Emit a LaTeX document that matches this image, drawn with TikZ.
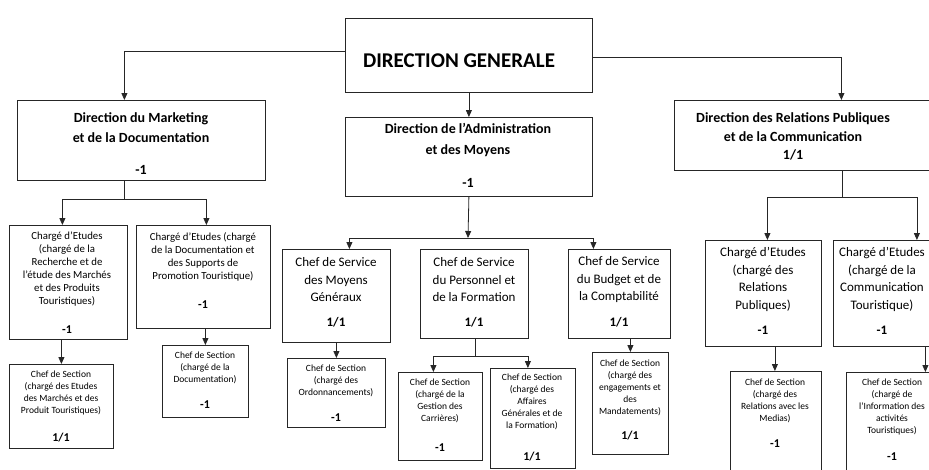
\documentclass[tikz,border=0pt]{standalone}
\usepackage{fontspec}
\setmainfont{Carlito}
\usetikzlibrary{arrows.meta,calc}
\newcommand\myfs[2]{\fontsize{#1}{#2}\selectfont}
\tikzset{
  box/.style={draw=black!85, line width=0.8pt, inner sep=0pt, anchor=north west},
  txt/.style={align=center, inner sep=0pt, text=black},
  con/.style={draw=black!85, line width=0.8pt},
  arr/.style={con, -{Triangle[length=7pt,width=6pt]}},
  big/.style={txt, font=\bfseries\myfs{14}{20}},
  mid/.style={txt, font=\myfs{13}{17.5}},
  midb/.style={txt, font=\bfseries\myfs{13}{17}},
  ce/.style={txt, font=\myfs{10.8}{13}},
  ceb/.style={txt, font=\bfseries\myfs{12}{14}},
  sm/.style={txt, font=\myfs{9.5}{12}},
  smb/.style={txt, font=\bfseries\myfs{12}{14}},
}
\begin{document}
\begin{tikzpicture}[x=1pt,y=-1pt]
\useasboundingbox (0,0) rectangle (929,469);
\clip (0,0) rectangle (929,469);
% ---------------- boxes ----------------
\node[box, minimum width=247pt, minimum height=74pt] (dg) at (345,18) {};
\node[box, minimum width=248pt, minimum height=80pt] (mkt) at (17,100) {};
\node[box, minimum width=247pt, minimum height=79pt] (adm) at (345,117) {};
\node[box, minimum width=266pt, minimum height=70pt] (rp) at (674,100) {};
\node[box, minimum width=118pt, minimum height=114pt] (ce1) at (9,225) {};
\node[box, minimum width=134pt, minimum height=103pt] (ce2) at (136,225) {};
\node[box, minimum width=104pt, minimum height=84pt] (cs1) at (9,364) {};
\node[box, minimum width=86pt, minimum height=72pt] (cs2) at (162,345) {};
\node[box, minimum width=108pt, minimum height=93pt] (smg) at (282,249) {};
\node[box, minimum width=108pt, minimum height=89pt] (spf) at (420,249) {};
\node[box, minimum width=102pt, minimum height=89pt] (sbc) at (568,249) {};
\node[box, minimum width=98pt, minimum height=69pt] (sord) at (287,358) {};
\node[box, minimum width=84pt, minimum height=88pt] (sgc) at (398,372) {};
\node[box, minimum width=85pt, minimum height=100pt] (sag) at (490,368) {};
\node[box, minimum width=76pt, minimum height=102pt] (sem) at (592,352) {};
\node[box, minimum width=116pt, minimum height=106pt] (cerp) at (705,240) {};
\node[box, minimum width=107pt, minimum height=106pt] (cect) at (833,240) {};
\node[box, minimum width=91pt, minimum height=115pt] (smed) at (730,371) {};
\node[box, minimum width=94pt, minimum height=115pt] (sinf) at (846,372) {};
% ---------------- texts ----------------
\node[txt, font=\bfseries\myfs{21}{25}] (tdg) at (459,61) {DIRECTION GENERALE};
\node[big] (tmkt) at (141,128) {Direction du Marketing\\et de la Documentation};
\node[big] (nmkt) at (141,170) {-1};
\node[big, font=\bfseries\myfs{14}{21}] (tadm) at (468,140.5) {Direction de l’Administration\\et des Moyens};
\node[big] (nadm) at (468,183) {-1};
\node[big, font=\bfseries\myfs{14}{18.5}] (trp) at (793,136.5) {Direction des Relations Publiques\\et de la Communication\\1/1};
\node[ce] (tce1) at (67,269.5) {Chargé d’Etudes\\(chargé de la\\Recherche et de\\l’étude des Marchés\\et des Produits\\Touristiques)};
\node[ceb] (nce1) at (67,330) {-1};
\node[ce] (tce2) at (203,256.5) {Chargé d’Etudes (chargé\\de la Documentation et\\des Supports de\\Promotion Touristique)};
\node[ceb] (nce2) at (203,305) {-1};
\node[sm] (tcs1) at (61,393) {Chef de Section\\(chargé des Etudes\\des Marchés et des\\Produit Touristiques)};
\node[smb] (ncs1) at (61,438) {1/1};
\node[sm] (tcs2) at (205,368) {Chef de Section\\(chargé de la\\Documentation)};
\node[smb] (ncs2) at (205,405) {-1};
\node[mid] (tsmg) at (336,280) {Chef de Service\\des Moyens\\Généraux};
\node[midb] (nsmg) at (336,322) {1/1};
\node[mid] (tspf) at (474,280) {Chef de Service\\du Personnel et\\de la Formation};
\node[midb] (nspf) at (474,322) {1/1};
\node[mid] (tsbc) at (619,280) {Chef de Service\\du Budget et de\\la Comptabilité};
\node[midb] (nsbc) at (619,322) {1/1};
\node[sm] (tsord) at (336,381) {Chef de Section\\(chargé des\\Ordonnancements)};
\node[smb] (nsord) at (336,418) {-1};
\node[sm] (tsgc) at (440,401) {Chef de Section\\(chargé de la\\Gestion des\\Carrières)};
\node[smb] (nsgc) at (440,448) {-1};
\node[sm] (tsag) at (532,402) {Chef de Section\\(chargé des\\Affaires\\Générales et de\\la Formation)};
\node[smb] (nsag) at (532,457) {1/1};
\node[sm] (tsem) at (630,388) {Chef de Section\\(chargé des\\engagements et\\des\\Mandatements)};
\node[smb] (nsem) at (630,436) {1/1};
\node[mid] (tcerp) at (763,279.5) {Chargé d’Etudes\\(chargé des\\Relations\\Publiques)};
\node[midb] (ncerp) at (763,330) {-1};
\node[mid] (tcect) at (882,279.5) {Chargé d’Etudes\\(chargé de la\\Communication\\Touristique)};
\node[midb] (ncect) at (882,330) {-1};
\node[sm] (tsmed) at (775,401) {Chef de Section\\(chargé des\\Relations avec les\\Medias)};
\node[smb] (nsmed) at (775,444) {-1};
\node[sm] (tsinf) at (892,407) {Chef de Section\\(chargé de\\l’Information des\\activités\\Touristiques)};
\node[smb] (nsinf) at (892,457) {-1};
% ---------------- connectors ----------------
\draw[arr] ([yshift=4pt]dg.west) -| ([xshift=-17pt]mkt.north);
\draw[arr] ([yshift=-2pt]dg.east) -| ([xshift=34pt]rp.north);
\draw[arr] (dg.south) -- (adm.north);
% marketing branch
\coordinate (b1) at (124,199);
\draw[con] (mkt.south -| b1) -- (b1);
\draw[arr] (b1) -| ([xshift=-6pt]ce1.north);
\draw[arr] (b1) -| ([xshift=3pt]ce2.north);
\draw[arr] (cs1.north |- ce1.south) -- (cs1.north);
\draw[arr] (cs2.north |- ce2.south) -- (cs2.north);
% administration branch
\coordinate (b2) at (468,238);
\draw[arr] (adm.south) -- (b2);
\draw[arr] (b2) -| ([xshift=13pt]smg.north);
\draw[arr] (b2) -| ([xshift=-26pt]sbc.north);
\draw[arr] (sord.north |- smg.south) -- (sord.north);
\coordinate (b3) at (475,356);
\draw[con] (spf.south -| b3) -- (b3);
\draw[arr] (b3) -| ([xshift=-7pt]sgc.north);
\draw[arr] (b3) -| ([xshift=-5pt]sag.north);
\draw[arr] (sem.north |- sbc.south) -- (sem.north);
% relations publiques branch
\coordinate (b4) at (842,197);
\draw[con] (rp.south -| b4) -- (b4);
\draw[arr] (b4) -| ([xshift=4pt]cerp.north);
\draw[arr] (b4) -| ([xshift=30pt]cect.north);
\draw[arr] ([xshift=-1pt]smed.north |- cerp.south) -- ([xshift=-1pt]smed.north);
\draw[arr] ([xshift=32pt]sinf.north |- cect.south) -- ([xshift=32pt]sinf.north);
\end{tikzpicture}
\end{document}
